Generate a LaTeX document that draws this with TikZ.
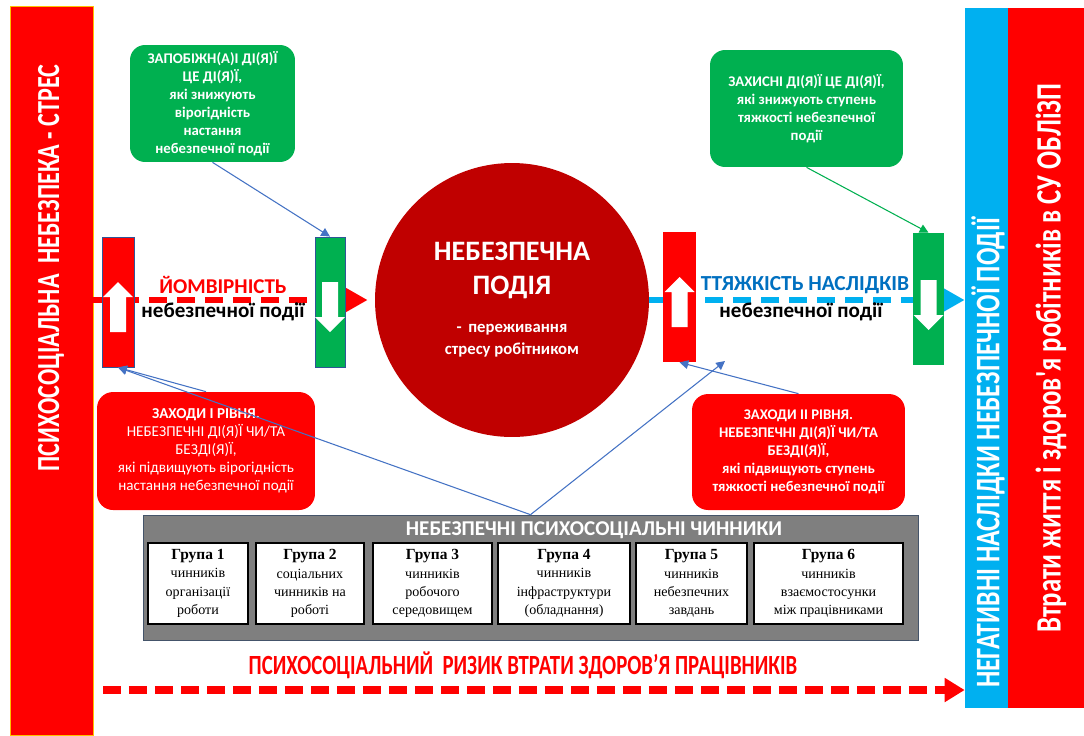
\documentclass[tikz,border=0pt]{standalone}
\usepackage{fontspec}
\setmainfont{Carlito}
\newfontfamily\narrowfont[FakeStretch=0.75]{Carlito}
\newfontfamily\timesfont{Liberation Serif}
\usetikzlibrary{positioning,arrows.meta}

\definecolor{hotred}{HTML}{FF0000}
\definecolor{darkred}{HTML}{C00000}
\definecolor{safegreen}{HTML}{00B050}
\definecolor{skyblue}{HTML}{00B0F0}
\definecolor{textblue}{HTML}{0070C0}
\definecolor{linkblue}{HTML}{4472C4}
\definecolor{edgeblue}{HTML}{2F5597}
\definecolor{panelgrey}{HTML}{7F7F7F}
\definecolor{paneledge}{HTML}{44546A}
\definecolor{baredge}{HTML}{FFC000}

\tikzset{
    greenbox/.style={rectangle, rounded corners=0.3cm, fill=safegreen, text=white, align=center, inner sep=0pt, font=\bfseries\fontsize{8.4}{10.2}\selectfont},
    redbox/.style={rectangle, rounded corners=0.32cm, fill=hotred, text=white, align=center, inner sep=0pt, font=\fontsize{8.6}{10.2}\selectfont},
    groupbox/.style={draw=black, line width=0.8pt, fill=white, align=center, inner sep=0pt, minimum height=1.62cm, font=\timesfont\fontsize{8}{10.4}\selectfont},
    vtext/.style={rotate=90, text=white, inner sep=0pt},
    link/.style={draw=linkblue, line width=0.6pt, -{Triangle[length=5pt,width=5pt]}},
    bigdash/.style={line width=0.12cm, dash pattern=on 0.36cm off 0.2cm, -{Triangle[length=0.46cm,width=0.48cm]}},
    pics/uparr/.style={code={\fill[white] (-8,25) -- (8,25) -- (8,-10) -- (15,-10) -- (0,-25) -- (-15,-10) -- (-8,-10) -- cycle;}},
    pics/downarr/.style={code={\fill[white] (-8,-25) -- (8,-25) -- (8,10) -- (15,10) -- (0,25) -- (-15,10) -- (-8,10) -- cycle;}}
}

\newcommand{\bigline}{\fontsize{16}{19}\selectfont}
\newcommand{\smallline}{\fontsize{9.5}{12.5}\selectfont}
\newcommand{\grouphead}{\bfseries\fontsize{8.8}{11}\selectfont}

\begin{document}
\begin{tikzpicture}[x=0.02cm, y=-0.02cm]
    \fill[white] (0,0) rectangle (1084,735);
    \useasboundingbox (0,0) rectangle (1084,735);

    \node[fill=hotred, draw=baredge, minimum width=1.66cm, minimum height=14.58cm, inner sep=0pt] (stressbar) at (51.5,370.5) {};
    \node[vtext, font=\narrowfont\bfseries\fontsize{18.3}{20}\selectfont] (stresstext) at (51,268) {ПСИХОСОЦІАЛЬНА\ \ НЕБЕЗПЕКА - СТРЕС};
    \node[fill=skyblue, minimum width=0.86cm, minimum height=14cm, inner sep=0pt] (negbar) at (986.5,358) {};
    \node[vtext, font=\narrowfont\bfseries\fontsize{19.6}{21}\selectfont] (negtext) at (988,453) {НЕГАТИВНІ НАСЛІДКИ НЕБЕЗПЕЧНОЇ ПОДІЇ};
    \node[fill=hotred, minimum width=1.52cm, minimum height=14cm, inner sep=0pt] (lossbar) at (1046,358) {};
    \node[vtext, font=\narrowfont\bfseries\fontsize{20.3}{22}\selectfont] (losstext) at (1051,358) {Втрати життя і здоров'я робітників в СУ ОБЛіЗП};

    \node[circle, fill=darkred, minimum size=5.48cm, inner sep=0pt, text=white, align=center, font=\bfseries\bigline] (hazard) at (512,300)
        {НЕБЕЗПЕЧНА\\ПОДІЯ\\[3pt]\smallline - \,переживання\\[-6.5pt]\smallline стресу робітником};

    \coordinate (ystart) at (93,300);
    \draw[bigdash, hotred, shorten >=0.14cm] (ystart) -- (hazard.west);
    \draw[bigdash, skyblue] (hazard.east) -- (hazard.east -| negbar.west);

    \node[fill=hotred, draw=edgeblue, line width=0.5pt, minimum width=0.64cm, minimum height=2.6cm, inner sep=0pt] (riskbar) at (118,302) {};
    \node[fill=safegreen, draw=edgeblue, line width=0.5pt, minimum width=0.6cm, minimum height=2.6cm, inner sep=0pt] (prevbar) at (330,302) {};
    \node[fill=hotred, minimum width=0.66cm, minimum height=2.6cm, inner sep=0pt] (harmbar) at (679.5,297) {};
    \node[fill=safegreen, minimum width=0.62cm, minimum height=2.64cm, inner sep=0pt] (protbar) at (928.5,299) {};
    \pic at (118,307) {uparr};
    \pic at (330,307) {downarr};
    \pic at (679.5,302) {uparr};
    \pic at (928.5,305) {downarr};

    \node[text=hotred, font=\bfseries\fontsize{12}{14}\selectfont] (prob) at (223,285) {ЙОМВІРНІСТЬ};
    \node[font=\bfseries\fontsize{12}{14}\selectfont] (probsub) at (223,312) {небезпечної події};
    \node[text=textblue, font=\bfseries\fontsize{12.2}{14}\selectfont] (sev) at (805,285) {ТТЯЖКІСТЬ НАСЛІДКІВ};
    \node[font=\bfseries\fontsize{12}{14}\selectfont] (sevsub) at (801,312) {небезпечної події};

    \node[greenbox, minimum width=3.3cm, minimum height=2.34cm] (prevbox) at (212.5,103.5)
        {ЗАПОБІЖН(А)І ДІ(Я)Ї\\ЦЕ ДІ(Я)Ї,\\які знижують\\вірогідність\\настання\\небезпечної події};
    \node[greenbox, minimum width=3.86cm, minimum height=2.34cm] (protbox) at (806.5,108.5)
        {ЗАХИСНІ ДІ(Я)Ї ЦЕ ДІ(Я)Ї,\\які знижують ступень\\тяжкості небезпечної\\події};
    \node[redbox, minimum width=4.36cm, minimum height=2.36cm] (lvl1box) at (206,451)
        {\textbf{ЗАХОДИ І РІВНЯ.}\\НЕБЕЗПЕЧНІ ДІ(Я)Ї ЧИ/ТА\\БЕЗДІ(Я)Ї,\\які підвищують вірогідність\\настання небезпечної події};
    \node[redbox, font=\bfseries\fontsize{8.4}{10.2}\selectfont, minimum width=4.26cm, minimum height=2.32cm] (lvl2box) at (798.5,452)
        {ЗАХОДИ ІІ РІВНЯ.\\НЕБЕЗПЕЧНІ ДІ(Я)Ї ЧИ/ТА\\БЕЗДІ(Я)Ї,\\які підвищують ступень\\тяжкості небезпечної події};

    \node[fill=panelgrey, draw=paneledge, minimum width=15.5cm, minimum height=2.5cm, inner sep=0pt] (factors) at (530.5,577.5) {};
    \node[text=white, font=\bfseries\fontsize{12}{14}\selectfont] (factortitle) at (594,530) {НЕБЕЗПЕЧНІ ПСИХОСОЦІАЛЬНІ ЧИННИКИ};
    \node[groupbox, minimum width=2.0cm] (group1) at (198,583.5) {{\grouphead Група 1}\\чинників\\організації\\роботи};
    \node[groupbox, minimum width=2.16cm] (group2) at (310,583.5) {{\grouphead Група 2}\\соціальних\\чинників на\\роботі};
    \node[groupbox, minimum width=2.38cm] (group3) at (432.5,583.5) {{\grouphead Група 3}\\чинників\\робочого\\середовищем};
    \node[groupbox, minimum width=2.64cm] (group4) at (564,583.5) {{\grouphead Група 4}\\чинників\\інфраструктури\\(обладнання)};
    \node[groupbox, minimum width=2.22cm] (group5) at (691.5,583.5) {{\grouphead Група 5}\\чинників\\небезпечних\\завдань};
    \node[groupbox, minimum width=2.98cm] (group6) at (828.5,583.5) {{\grouphead Група 6}\\чинників\\взаємостосунки\\між працівниками};

    \draw[link] (prevbox.south) -- (prevbar.north);
    \draw[link, draw=safegreen] (protbox.south) -- (protbar.north);
    \draw[link] (factors.north) -- (riskbar.south);
    \draw[link] (lvl1box.north) -- (riskbar.south);
    \coordinate (harmtip) at (725,361);
    \draw[link] (factors.north) -- (harmtip);
    \draw[link] (lvl2box.north) -- (harmbar.south);

    \node[text=hotred, font=\narrowfont\bfseries\fontsize{15.8}{18}\selectfont] (risklabel) at (523,665) {ПСИХОСОЦІАЛЬНИЙ\ \ РИЗИК ВТРАТИ ЗДОРОВ’Я ПРАЦІВНИКІВ};
    \coordinate (rstart) at (103,690);
    \draw[bigdash, hotred, line width=0.16cm, dash pattern=on 0.36cm off 0.16cm, -{Triangle[length=0.4cm,width=0.46cm]}] (rstart) -- (rstart -| negbar.west);
\end{tikzpicture}
\end{document}
